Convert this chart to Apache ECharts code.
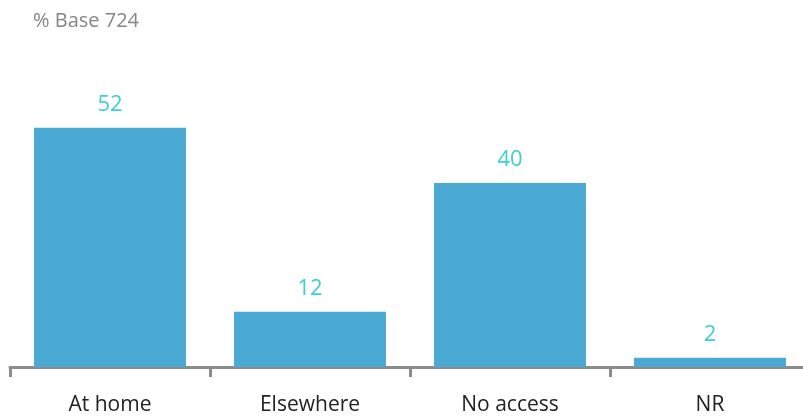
<!DOCTYPE html>
<html>
<head>
<meta charset="utf-8">
<script src="https://cdn.jsdelivr.net/npm/echarts@6/dist/echarts.min.js"></script>
<style>
  html, body { margin: 0; padding: 0; background: #fff; }
  #chart { width: 803px; height: 417px; }
</style>
</head>
<body>
<div id="chart"></div>
<script>
const categories = ['At home', 'Elsewhere', 'No access', 'NR'];
const values = [52, 12, 40, 2];
const baseLabel = '% Base 724';

const myChart = echarts.init(document.getElementById('chart'));
myChart.setOption({
  animation: false,
  textStyle: { fontFamily: '"Open Sans", "Noto Sans", sans-serif' },
  title: {
    text: baseLabel,
    left: 28,
    top: 6,
    textStyle: { color: '#858585', fontSize: 20, fontWeight: 'normal' }
  },
  // grid runs past the right edge so the last tick falls off-canvas like the original
  grid: { left: 10, width: 800, top: 91, height: 276, outerBoundsMode: 'none' },
  xAxis: {
    type: 'category',
    data: categories,
    axisLine: { lineStyle: { color: '#8c8c8c', width: 3 } },
    axisTick: { show: true, interval: 0, length: 10, lineStyle: { color: '#8c8c8c', width: 3 } },
    axisLabel: { color: '#222', fontSize: 21, margin: 28 }
  },
  yAxis: {
    type: 'value',
    min: 0,
    max: 60,
    show: false
  },
  series: [{
    type: 'bar',
    data: values,
    barWidth: '76%',
    itemStyle: { color: '#4aaad4' },
    label: {
      show: true,
      position: 'top',
      distance: 12,
      color: '#3ecfcf',
      fontSize: 22
    }
  }]
});
</script>
</body>
</html>
